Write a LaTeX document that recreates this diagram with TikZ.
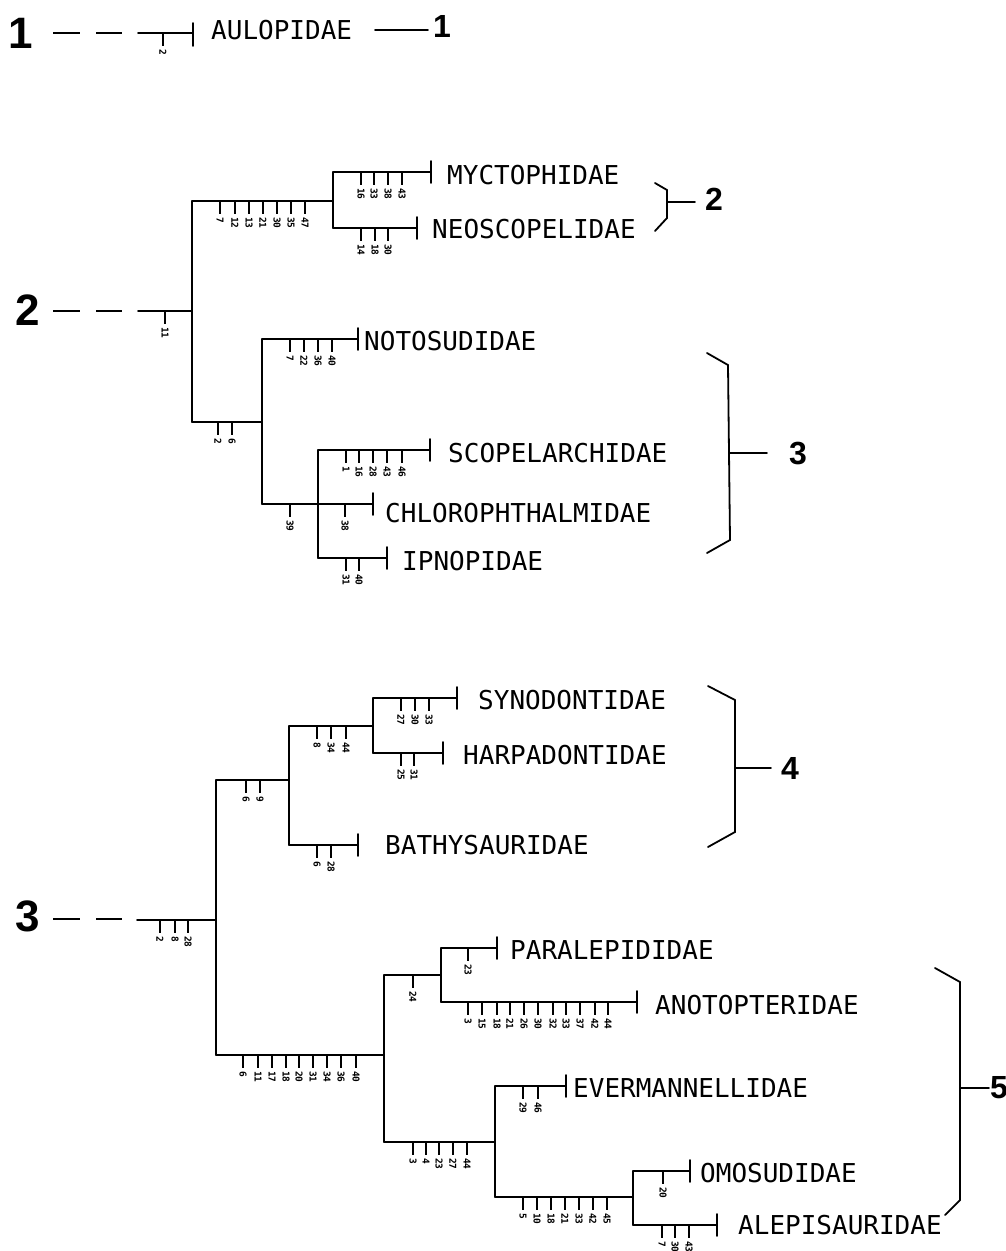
\documentclass[tikz,border=0pt]{standalone}
\usepackage{fontspec}
\newfontfamily\taxfont{DejaVu Sans Mono}
\newfontfamily\numfont{Liberation Sans}
\newfontfamily\tickfont{DejaVu Sans Mono}
\newcounter{tkc}
\tikzset{
  ln/.style={line width=1.8pt, line cap=round},
  dsh/.style={line width=1.6pt, dash pattern=on 27pt off 16pt},
  tickln/.style={line width=1.4pt},
  tlab/.style={rotate=-90, anchor=west, inner sep=0pt, font=\tickfont\bfseries\fontsize{9.5}{9.5}\selectfont},
  tax/.style={anchor=west, inner sep=0pt, font=\taxfont\fontsize{26}{26}\selectfont},
  bignum/.style={inner sep=0pt, font=\numfont\bfseries\fontsize{44}{44}\selectfont},
  smnum/.style={inner sep=0pt, font=\numfont\bfseries\fontsize{32}{32}\selectfont},
}
\newcommand\tk[3]{\draw[tickln] (#1,#2) -- ++(0,13);
  \stepcounter{tkc}\node[tlab] (tk\arabic{tkc}) at (#1,#2+16) {#3};}
\newcommand\tipbar[3]{\draw[ln] (#1,#2-11) -- (#1,#2+11);}
\begin{document}
\begin{tikzpicture}[x=1pt,y=-1pt]
\useasboundingbox (0,0) rectangle (1006,1251);
% ---------- 1 ----------
\node[bignum] (L1) at (21,33) {1};
\coordinate (a0) at (53,33);
\coordinate (a1) at (122,33);
\coordinate (a2) at (138,33);
\coordinate (aul) at (193,33);
\draw[dsh] (a0) -- (a1);
\draw[ln] (a2) -- (aul);
\draw[ln] (193,23) -- (193,46);
\tk{163}{33}{2}
\node[tax] (AUL) at (211,30) {AULOPIDAE};
\node[smnum] (R1) at (442,26) {1};
\coordinate (r1a) at (375,30);
\coordinate (r1b) at (428,30);
\draw[ln] (r1a) -- (r1b);
% ---------- 2 ----------
\node[bignum] (L2) at (28,310) {2};
\coordinate (b0) at (53,311);
\coordinate (b1) at (122,311);
\coordinate (b2) at (138,311);
\coordinate (J1) at (192,311);
\draw[dsh] (b0) -- (b1);
\draw[ln] (b2) -- (J1);
\tk{165}{311}{11}
\coordinate (J1t) at (192,201);
\coordinate (J1b) at (192,422);
\draw[ln] (J1t) -- (J1b);
\coordinate (J2) at (333,201);
\draw[ln] (J1t) -- (J2);
\tk{220}{201}{7}\tk{235}{201}{12}\tk{249}{201}{13}\tk{263}{201}{21}
\tk{277}{201}{30}\tk{291}{201}{35}\tk{305}{201}{47}
\coordinate (J2t) at (333,172);
\coordinate (J2b) at (333,228);
\draw[ln] (J2t) -- (J2b);
\coordinate (myc) at (431,172);
\draw[ln] (J2t) -- (myc); \tipbar{431}{172}{}
\tk{361}{172}{16}\tk{374}{172}{33}\tk{388}{172}{38}\tk{402}{172}{43}
\node[tax] (MYC) at (447,175) {MYCTOPHIDAE};
\coordinate (neo) at (417,228);
\draw[ln] (J2b) -- (neo); \tipbar{417}{228}{}
\tk{361}{228}{14}\tk{375}{228}{18}\tk{388}{228}{30}
\node[tax] (NEO) at (432,229) {NEOSCOPELIDAE};
% lower clade
\coordinate (J3) at (262,422);
\draw[ln] (J1b) -- (J3);
\tk{218}{422}{2}\tk{232}{422}{6}
\coordinate (J3t) at (262,339);
\coordinate (J3b) at (262,504);
\draw[ln] (J3t) -- (J3b);
\coordinate (not) at (358,339);
\draw[ln] (J3t) -- (not); \tipbar{358}{339}{}
\tk{290}{339}{7}\tk{304}{339}{22}\tk{318}{339}{36}\tk{332}{339}{40}
\node[tax] (NOT) at (364,341) {NOTOSUDIDAE};
\coordinate (chl) at (373,504);
\draw[ln] (J3b) -- (chl); \tipbar{373}{504}{}
\tk{290}{504}{39}\tk{345}{504}{38}
\node[tax] (CHL) at (385,513) {CHLOROPHTHALMIDAE};
\coordinate (J4t) at (318,450);
\coordinate (J4b) at (318,558);
\draw[ln] (J4t) -- (J4b);
\coordinate (sco) at (430,450);
\draw[ln] (J4t) -- (sco); \tipbar{430}{450}{}
\tk{346}{450}{1}\tk{359}{450}{16}\tk{373}{450}{28}\tk{387}{450}{43}\tk{402}{450}{46}
\node[tax] (SCO) at (448,453) {SCOPELARCHIDAE};
\coordinate (ipn) at (387,558);
\draw[ln] (J4b) -- (ipn); \tipbar{387}{558}{}
\tk{346}{558}{31}\tk{359}{558}{40}
\node[tax] (IPN) at (402,561) {IPNOPIDAE};
% brackets
\draw[ln] (655,183) -- (667,190) -- (667,218) -- (655,231);
\node[smnum] (R2) at (714,199) {2};
\coordinate (br2) at (667,202);
\coordinate (br2e) at (695,202);
\draw[ln] (br2) -- (br2e);
\draw[ln] (707,353) -- (728,365) -- (730,540) -- (707,553);
\node[smnum] (R3) at (798,453) {3};
\coordinate (br3) at (729,453);
\coordinate (br3e) at (767,453);
\draw[ln] (br3) -- (br3e);
% ---------- 3 ----------
\node[bignum] (L3) at (28,916) {3};
\coordinate (c0) at (53,919);
\coordinate (c1) at (122,919);
\coordinate (c2) at (137,920);
\coordinate (K1) at (216,920);
\draw[dsh] (c0) -- (c1);
\draw[ln] (c2) -- (K1);
\tk{160}{920}{2}\tk{175}{920}{8}\tk{188}{920}{28}
\coordinate (K1t) at (216,780);
\coordinate (K1b) at (216,1055);
\draw[ln] (K1t) -- (K1b);
\coordinate (K2) at (289,780);
\draw[ln] (K1t) -- (K2);
\tk{246}{780}{6}\tk{260}{780}{9}
\coordinate (K2t) at (289,726);
\coordinate (K2b) at (289,845);
\draw[ln] (K2t) -- (K2b);
\coordinate (K3) at (373,726);
\draw[ln] (K2t) -- (K3);
\tk{317}{726}{8}\tk{331}{726}{34}\tk{346}{726}{44}
\coordinate (K3t) at (373,698);
\coordinate (K3b) at (373,753);
\draw[ln] (K3t) -- (K3b);
\coordinate (syn) at (457,698);
\draw[ln] (K3t) -- (syn); \tipbar{457}{698}{}
\tk{401}{698}{27}\tk{415}{698}{30}\tk{429}{698}{33}
\node[tax] (SYN) at (478,700) {SYNODONTIDAE};
\coordinate (har) at (443,753);
\draw[ln] (K3b) -- (har); \tipbar{443}{753}{}
\tk{401}{753}{25}\tk{414}{753}{31}
\node[tax] (HAR) at (463,755) {HARPADONTIDAE};
\coordinate (bat) at (358,845);
\draw[ln] (K2b) -- (bat); \tipbar{358}{845}{}
\tk{317}{845}{6}\tk{331}{845}{28}
\node[tax] (BAT) at (385,845) {BATHYSAURIDAE};
% lower
\coordinate (K4) at (384,1055);
\draw[ln] (K1b) -- (K4);
\tk{243}{1055}{6}\tk{258}{1055}{11}\tk{272}{1055}{17}\tk{286}{1055}{18}\tk{299}{1055}{20}
\tk{313}{1055}{31}\tk{327}{1055}{34}\tk{341}{1055}{36}\tk{356}{1055}{40}
\coordinate (K4t) at (384,975);
\coordinate (K4b) at (384,1142);
\draw[ln] (K4t) -- (K4b);
\coordinate (K5) at (441,975);
\draw[ln] (K4t) -- (K5);
\tk{413}{975}{24}
\coordinate (K5t) at (441,948);
\coordinate (K5b) at (441,1002);
\draw[ln] (K5t) -- (K5b);
\coordinate (par) at (497,948);
\draw[ln] (K5t) -- (par); \tipbar{497}{948}{}
\tk{468}{948}{23}
\node[tax] (PAR) at (510,950) {PARALEPIDIDAE};
\coordinate (ano) at (637,1002);
\draw[ln] (K5b) -- (ano); \tipbar{637}{1002}{}
\tk{468}{1002}{3}\tk{482}{1002}{15}\tk{497}{1002}{18}\tk{510}{1002}{21}\tk{524}{1002}{26}
\tk{538}{1002}{30}\tk{553}{1002}{32}\tk{566}{1002}{33}\tk{580}{1002}{37}\tk{595}{1002}{42}\tk{608}{1002}{44}
\node[tax] (ANO) at (655,1005) {ANOTOPTERIDAE};
\coordinate (K6) at (495,1142);
\draw[ln] (K4b) -- (K6);
\tk{413}{1142}{3}\tk{426}{1142}{4}\tk{439}{1142}{23}\tk{453}{1142}{27}\tk{467}{1142}{44}
\coordinate (K6t) at (495,1086);
\coordinate (K6b) at (495,1197);
\draw[ln] (K6t) -- (K6b);
\coordinate (eve) at (566,1086);
\draw[ln] (K6t) -- (eve); \tipbar{566}{1086}{}
\tk{523}{1086}{29}\tk{538}{1086}{46}
\node[tax] (EVE) at (573,1088) {EVERMANNELLIDAE};
\coordinate (K7) at (633,1197);
\draw[ln] (K6b) -- (K7);
\tk{523}{1197}{5}\tk{537}{1197}{10}\tk{551}{1197}{18}\tk{565}{1197}{21}\tk{579}{1197}{33}\tk{593}{1197}{42}\tk{607}{1197}{45}
\coordinate (K7t) at (633,1171);
\coordinate (K7b) at (633,1225);
\draw[ln] (K7t) -- (K7b);
\coordinate (omo) at (690,1171);
\draw[ln] (K7t) -- (omo); \tipbar{690}{1171}{}
\tk{663}{1171}{20}
\node[tax] (OMO) at (700,1173) {OMOSUDIDAE};
\coordinate (ale) at (717,1225);
\draw[ln] (K7b) -- (ale); \tipbar{717}{1225}{}
\tk{662}{1225}{7}\tk{675}{1225}{30}\tk{689}{1225}{43}
\node[tax] (ALE) at (738,1225) {ALEPISAURIDAE};
% brackets
\draw[ln] (708,686) -- (735,700) -- (735,832) -- (708,847);
\node[smnum] (R4) at (790,768) {4};
\coordinate (br4) at (735,768);
\coordinate (br4e) at (771,768);
\draw[ln] (br4) -- (br4e);
\draw[ln] (935,968) -- (960,982) -- (960,1200) -- (945,1215);
\node[smnum] (R5) at (999,1088) {5};
\coordinate (br5) at (960,1088);
\coordinate (br5e) at (989,1088);
\draw[ln] (br5) -- (br5e);
\end{tikzpicture}
\end{document}
